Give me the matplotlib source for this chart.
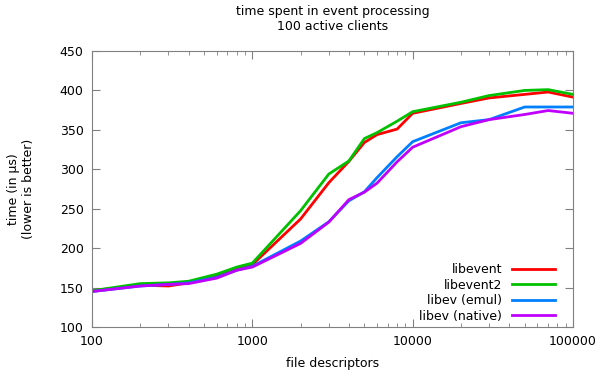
import matplotlib
matplotlib.use("Agg")
import matplotlib.pyplot as plt
from matplotlib.ticker import LogLocator, NullFormatter, FixedLocator

# file descriptor counts
fds = [100, 200, 300, 400, 600, 800, 1000, 2000, 3000, 4000, 5000, 6000,
       8000, 10000, 20000, 30000, 50000, 70000, 100000]

libevent = [146, 153, 152, 156, 165.5, 174, 179, 237, 283, 310, 334, 344,
            351, 371, 383.5, 390.5, 395, 398, 391.5]
libevent2 = [146, 155, 156, 158, 167, 176, 181, 247.5, 294, 310.5, 339, 346.5,
             361, 373, 385, 393.5, 400, 401, 395]
libev_emul = [145, 152, 154, 156, 163, 172, 177, 209, 233.5, 260, 271.5, 289.5,
              316, 335, 359, 363, 379, 379, 379]
libev_native = [145, 152, 154, 155, 162, 172, 176, 206, 233, 261.5, 271, 282.5,
                309.5, 328, 354, 363, 369.5, 374.5, 371]

series = [
    ("libevent", libevent, "#ff0000"),
    ("libevent2", libevent2, "#00c000"),
    ("libev (emul)", libev_emul, "#0080ff"),
    ("libev (native)", libev_native, "#c000ff"),
]

fig = plt.figure(figsize=(6, 3.81), dpi=100)
ax = fig.add_axes([92/600, 1-327/381, (573-92)/600, (327-51)/381])

for name, vals, col in series:
    ax.plot(fds, vals, color=col, lw=2, label=name)

ax.set_xscale("log")
ax.set_xlim(100, 100000)
ax.set_ylim(100, 450)
ax.xaxis.set_major_locator(FixedLocator([100, 1000, 10000, 100000]))
ax.set_xticklabels(["100", "1000", "10000", "100000"])
ax.xaxis.set_minor_locator(LogLocator(base=10, subs=range(2, 10)))
ax.xaxis.set_minor_formatter(NullFormatter())
ax.set_yticks(range(100, 451, 50))

ax.tick_params(which="both", direction="in", top=True, right=True,
               color="#808080", labelsize=9, pad=6)
ax.tick_params(which="major", length=6)
ax.tick_params(which="minor", length=3)
for s in ax.spines.values():
    s.set_color("#808080")
    s.set_linewidth(0.8)

ax.set_xlabel("file descriptors", fontsize=9, labelpad=6)
ax.set_ylabel("time (in µs)\n(lower is better)", fontsize=9, labelpad=18)
ax.set_title("time spent in event processing\n100 active clients", fontsize=9, pad=15)

ax.legend(loc="lower right", frameon=False, markerfirst=False, fontsize=9,
          handlelength=3.4, handletextpad=0.8, labelspacing=0.2,
          bbox_to_anchor=(0.985, -0.025))
for t in ax.get_legend().get_texts():
    t.set_ha("right")

fig.savefig("out.png", dpi=100)
